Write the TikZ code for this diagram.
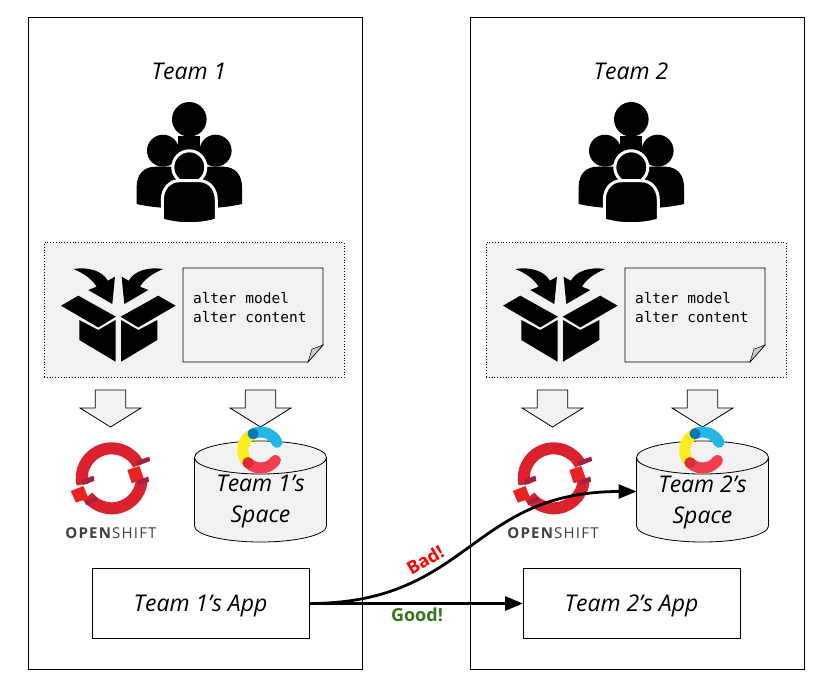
\documentclass[tikz,border=0pt]{standalone}
\usepackage{fontspec}
\setmainfont{Open Sans}
\newfontfamily\codefont{DejaVu Sans Mono}
\usetikzlibrary{arrows.meta}

\definecolor{boxgray}{HTML}{F2F2F2}
\definecolor{shiftred}{HTML}{DB212E}
\definecolor{shiftlight}{HTML}{ED2024}
\definecolor{shiftdark}{HTML}{A5213D}
\definecolor{goodgreen}{HTML}{38761D}
\definecolor{ringyellow}{HTML}{FBEC1C}
\definecolor{ringblue}{HTML}{25B6E8}
\definecolor{ringred}{HTML}{F23D4F}
\definecolor{ringdarkblue}{HTML}{0A76B0}
\definecolor{ringdarkred}{HTML}{D92B33}

\tikzset{
	panel/.style={draw, line width=0.8pt, minimum width=334pt, minimum height=652pt, outer sep=0pt},
	teamtext/.style={font=\fontsize{23}{31}\selectfont\itshape, align=center},
	appbox/.style={draw, line width=0.8pt, minimum width=217pt, minimum height=70pt, outer sep=0pt, text depth=0pt, teamtext},
	sourcearea/.style={draw, dotted, line width=0.8pt, fill=boxgray, minimum width=300pt, minimum height=135pt},
	codetext/.style={font=\fontsize{14.5}{19}\selectfont\codefont, align=left, anchor=west},
	deploy/.style={-{Triangle[length=18pt,width=14pt]}, line width=2.8pt},
	people/.pic={
		\fill (0,-43.7) circle (17.3);
		\fill (-11,-27) rectangle (11,-10);
		\foreach \s in {-1,1} {
			\fill (\s*26.3,-12.3) circle (16);
			\fill (\s*52.7,41) -- (\s*52.7,24) .. controls (\s*52.7,11) and (\s*45,3.7) .. (\s*34,3.7)
				-- (\s*10,3.7) -- (\s*10,46) .. controls (\s*25,45) and (\s*40,44) .. (\s*52.7,41) -- cycle;
		}
		\filldraw[draw=white, line width=3pt] (0,4.3) circle (16.5);
		\filldraw[draw=white, line width=3pt] (-27,57) -- (-27,37) .. controls (-27,26) and (-20,17.7) .. (-10,17.7)
			-- (10,17.7) .. controls (20,17.7) and (27,26) .. (27,37) -- (27,57)
			.. controls (10,62) and (-10,62) .. (-27,57) -- cycle;
	},
	openbox/.pic={
		\foreach \s in {-1,1} {
			\fill (\s*57.3,-11) -- (\s*40,-21) -- (\s*2.3,0) -- (\s*20,10.7) -- cycle;
			\fill (\s*39,3.3) -- (\s*20,13.3) -- (\s*2.7,3.3) -- (\s*2.7,45) -- (\s*39,23.3) -- cycle;
			\fill (\s*45,-47.7) .. controls (\s*30,-50) and (\s*16,-46) .. (\s*10.5,-36) -- (\s*3.3,-40)
				-- (\s*6,-12.7) -- (\s*30,-26.7) -- (\s*21.7,-30) .. controls (\s*25,-36) and (\s*33,-43) .. (\s*45,-47.7) -- cycle;
		}
	},
	dropdown/.pic={
		\filldraw[fill=boxgray, line width=0.8pt] (-15.3,0) -- (15.3,0) -- (15.3,18) -- (30.5,18) -- (0,37)
			-- (-30.5,18) -- (-15.3,18) -- cycle;
	},
	shiftlogo/.pic={
		\draw[shiftred, line width=12pt] (-27:30) arc[start angle=-27, end angle=-192, radius=30];
		\draw[shiftred, line width=12pt] (3:30) arc[start angle=3, end angle=143, radius=30];
		\fill[shiftlight] (15.7,-8.3) -- (27.7,-12.3) -- (32.3,1) -- (20,5) -- cycle;
		\fill[shiftlight] (-41,12.7) -- (-28.3,7.7) -- (-23.3,20) -- (-35.7,24.3) -- cycle;
		\fill[shiftdark] (23.3,-16.7) -- (37.7,-21.7) -- (38.3,-17.3) -- (25.7,-12.3) -- cycle;
		\fill[shiftdark] (25.7,1.7) -- (36.7,-1.7) -- (37.3,3.3) -- (26.7,6.7) -- cycle;
		\fill[shiftdark] (-30,1.7) -- (-18.3,-2.7) -- (-17.3,2.7) -- (-29,6.7) -- cycle;
		\fill[shiftdark] (-27.3,22.7) -- (-15.7,18.3) -- (-14,22.7) -- (-25.7,26.7) -- cycle;
	},
	ringlogo/.pic={
		\draw[ringyellow, line width=11pt] (-115:18) arc[start angle=-115, end angle=-225, radius=18];
		\draw[ringblue, line width=11pt, line cap=round] (-115:18) arc[start angle=-115, end angle=-25, radius=18];
		\draw[ringred, line width=11pt, line cap=round] (135:18) arc[start angle=135, end angle=35, radius=18];
		\fill[ringdarkblue] (-115:18) circle (5.5);
		\fill[ringdarkred] (135:18) circle (5.5);
	}
}

\begin{document}
\begin{tikzpicture}[x=1pt, y=-1pt]
	\useasboundingbox (0,0) rectangle (833,686);
	\foreach \n/\dx/\appx in {1/0/200.5, 2/442/189.5} {
		\begin{scope}[xshift=\dx pt]
			\node[panel] (panel\n) at (195,343) {};
			\node[teamtext] (title\n) at (189,71) {Team \n};
			\pic at (189.3,163) {people};
			\node[sourcearea] (area\n) at (194,310) {};
			\pic at (118.3,316.7) {openbox};
			% note with the folded corner
			\filldraw[fill=boxgray, line width=0.8pt] (183,268) -- (323,268) -- (323,345) -- (308,362) -- (183,362) -- cycle;
			\filldraw[fill=gray!40, line width=0.5pt] (308,362) .. controls (310,356) and (311,352) .. (312,349) .. controls (316,348) and (320,346) .. (323,345) -- cycle;
			\node[codetext] (code\n) at (189.5,307.5) {alter model\\alter content};
			\pic at (110.5,390) {dropdown};
			\pic at (260.5,390) {dropdown};
			\pic at (111.7,478.3) {shiftlogo};
			\node[font=\fontsize{15}{18}\selectfont\addfontfeatures{LetterSpace=8}, text=black!75] (shift\n) at (111,533) {\textbf{OPEN}SHIFT};
			% the store, a drum
			\filldraw[fill=boxgray, line width=0.8pt] (194.5,457.5) -- (194.5,526) arc[start angle=180, end angle=0, x radius=66, y radius=16]
				-- (326.5,457.5) arc[start angle=0, end angle=-180, x radius=66, y radius=16.5] -- cycle;
			\draw[line width=0.8pt] (194.5,457.5) arc[start angle=180, end angle=0, x radius=66, y radius=16.5];
			\coordinate (space\n) at (194.5,491.5);
			\pic at (260.7,450) {ringlogo};
			\node[teamtext] (spacelabel\n) at (260.5,502) {Team \n's\\Space};
			\node[appbox] (app\n) at (\appx,603.5) {Team \n's App};
		\end{scope}
	}
	\draw[deploy] (app1.east) .. controls (470,603.5) and (470,491.5) .. (space2);
	\draw[deploy] (app1.east) -- (app2.west);
	\node[font=\fontsize{18}{22}\selectfont\bfseries, text=red, rotate=30] (bad) at (425,560) {Bad!};
	\node[font=\fontsize{18}{22}\selectfont\bfseries, text=goodgreen] (good) at (417,615) {Good!};
\end{tikzpicture}
\end{document}
